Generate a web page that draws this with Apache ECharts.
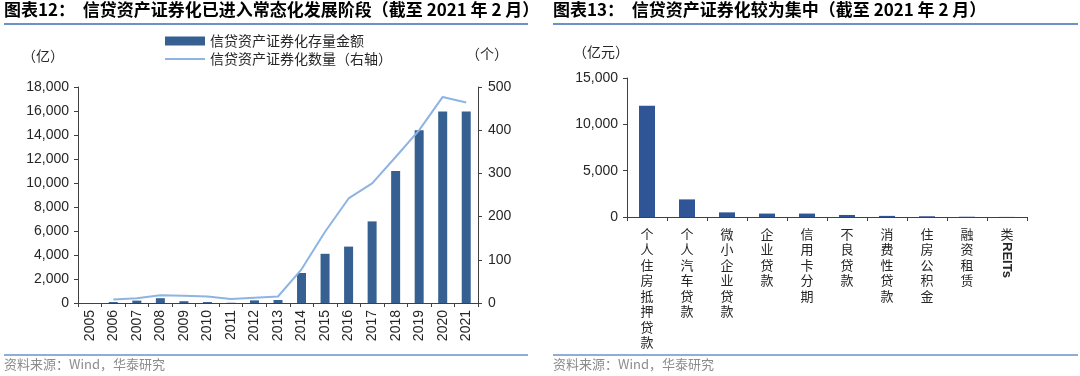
<!DOCTYPE html>
<html>
<head>
<meta charset="utf-8">
<script src="https://cdn.jsdelivr.net/npm/echarts@6/dist/echarts.min.js"></script>
<style>
  html, body { margin: 0; padding: 0; background: #fff; }
  #chart { width: 1080px; height: 376px; }
</style>
</head>
<body>
<div id="chart"></div>
<script>
// chart 12: stock amount (left axis, 亿) and count (right axis, 个)
const years = ["2005", "2006", "2007", "2008", "2009", "2010", "2011", "2012", "2013",
    "2014", "2015", "2016", "2017", "2018", "2019", "2020", "2021"];
const stockAmount = [0, 80, 200, 400, 150, 80, 20, 220, 250,
    2500, 4100, 4700, 6800, 11000, 14400, 15950, 15950];
const issueCount = [null, 8, 11, 18, 17, 15, 9, 12, 15,
    78, 165, 242, 277, 338, 400, 477, 464];

// chart 13: stock by asset type (亿元)
const assetTypes = ["个人住房抵押贷款", "个人汽车贷款", "微小企业贷款", "企业贷款", "信用卡分期",
    "不良贷款", "消费性贷款", "住房公积金", "融资租赁", "类REITs"];
const assetAmount = [12000, 1900, 500, 370, 370, 220, 120, 80, 30, 10];

const FONT = "'Liberation Sans', 'Noto Sans CJK SC', sans-serif";
const CJK = "'Noto Sans CJK SC', sans-serif";
const TXT = "#262626";
const AXIS = "#404040";
const BAR_DARK = "#376092";
const BAR_RIGHT = "#2f5597";
const LINE_LIGHT = "#8db4e2";
const RULE = "#6a93c9";

const fmt = v => v.toLocaleString("en-US");

const axisBase = {
    axisLine: { show: true, lineStyle: { color: AXIS, width: 1 } },
    axisTick: { show: true, length: 4, lineStyle: { color: AXIS } },
    splitLine: { show: false },
    axisLabel: { color: TXT, fontSize: 14, fontFamily: FONT }
};

const chart = echarts.init(document.getElementById("chart"), null, { renderer: "canvas" });

chart.setOption({
    animation: false,
    textStyle: { fontFamily: FONT },
    grid: [
        { left: 78, top: 87, width: 400, height: 216 },
        { left: 627, top: 78, width: 400, height: 139 }
    ],
    legend: {
        orient: "vertical",
        left: 160,
        top: 29,
        itemWidth: 40,
        itemHeight: 9,
        itemGap: 4,
        textStyle: { color: TXT, fontSize: 14, fontFamily: CJK },
        data: [
            { name: "信贷资产证券化存量金额", icon: "rect" },
            { name: "信贷资产证券化数量（右轴）", icon: "path://M0,0H40V2H0Z" }
        ]
    },
    xAxis: [
        {
            ...axisBase,
            gridIndex: 0,
            type: "category",
            data: years,
            axisLabel: { ...axisBase.axisLabel, rotate: 90, margin: 7, interval: 0 }
        },
        {
            ...axisBase,
            gridIndex: 1,
            type: "category",
            data: assetTypes,
            axisLabel: {
                ...axisBase.axisLabel,
                fontSize: 13,
                interval: 0,
                margin: 9,
                lineHeight: 15.5,
                verticalAlign: "top",
                fontFamily: CJK,
                formatter: v => v === "类REITs" ? "类" : v.split("").join("\n")
            }
        }
    ],
    yAxis: [
        {
            ...axisBase,
            gridIndex: 0,
            type: "value",
            min: 0, max: 18000, interval: 2000,
            axisLabel: { ...axisBase.axisLabel, margin: 9, formatter: fmt }
        },
        {
            ...axisBase,
            gridIndex: 0,
            type: "value",
            position: "right",
            min: 0, max: 500, interval: 100,
            axisLabel: { ...axisBase.axisLabel, margin: 10 }
        },
        {
            ...axisBase,
            gridIndex: 1,
            type: "value",
            min: 0, max: 15000, interval: 5000,
            axisLabel: { ...axisBase.axisLabel, margin: 9, formatter: fmt }
        }
    ],
    series: [
        {
            name: "信贷资产证券化存量金额",
            type: "bar",
            xAxisIndex: 0, yAxisIndex: 0,
            barWidth: 9,
            itemStyle: { color: BAR_DARK },
            data: stockAmount
        },
        {
            name: "信贷资产证券化数量（右轴）",
            type: "line",
            xAxisIndex: 0, yAxisIndex: 1,
            symbol: "none",
            lineStyle: { color: LINE_LIGHT, width: 2 },
            itemStyle: { color: LINE_LIGHT },
            data: issueCount
        },
        {
            name: "资产类型",
            type: "bar",
            xAxisIndex: 1, yAxisIndex: 2,
            barWidth: 16,
            itemStyle: { color: BAR_RIGHT },
            data: assetAmount
        }
    ]
});

// titles, rules, units, sources
const reitsX = chart.convertToPixel({ xAxisIndex: 1 }, "类REITs");
const titleStyle = { fontSize: 17, fontWeight: "bold", fill: "#000", fontFamily: CJK };
const srcStyle = { fontSize: 13, fill: "#8c8c8c", fontFamily: CJK };
const unitStyle = { fontSize: 14, fill: TXT, fontFamily: CJK };

chart.setOption({
    graphic: [
        { type: "text", left: 4, top: 1, style: { text: "图表12：  信贷资产证券化已进入常态化发展阶段（截至 2021 年 2 月）", ...titleStyle } },
        { type: "text", left: 553, top: 1, style: { text: "图表13：  信贷资产证券化较为集中（截至 2021 年 2 月）", ...titleStyle } },
        { type: "line", shape: { x1: 4, y1: 24, x2: 528, y2: 24 }, style: { stroke: RULE, lineWidth: 2 } },
        { type: "line", shape: { x1: 553, y1: 24, x2: 1078, y2: 24 }, style: { stroke: RULE, lineWidth: 2 } },
        { type: "line", shape: { x1: 4, y1: 355, x2: 528, y2: 355 }, style: { stroke: RULE, lineWidth: 1.5 } },
        { type: "line", shape: { x1: 553, y1: 355, x2: 1078, y2: 355 }, style: { stroke: RULE, lineWidth: 1.5 } },
        { type: "text", left: 4, top: 358, style: { text: "资料来源：Wind，华泰研究", ...srcStyle } },
        { type: "text", left: 553, top: 358, style: { text: "资料来源：Wind，华泰研究", ...srcStyle } },
        { type: "text", left: 22, top: 49, style: { text: "（亿）", ...unitStyle } },
        { type: "text", left: 466, top: 47, style: { text: "（个）", ...unitStyle } },
        { type: "text", left: 573, top: 45, style: { text: "（亿元）", ...unitStyle } },
        {
            type: "text",
            x: reitsX, y: 242,
            rotation: -Math.PI / 2,
            style: { text: "REITs", fontSize: 13, fontWeight: "bold", fill: TXT, fontFamily: FONT, align: "left", verticalAlign: "middle" }
        }
    ]
});
</script>
</body>
</html>
